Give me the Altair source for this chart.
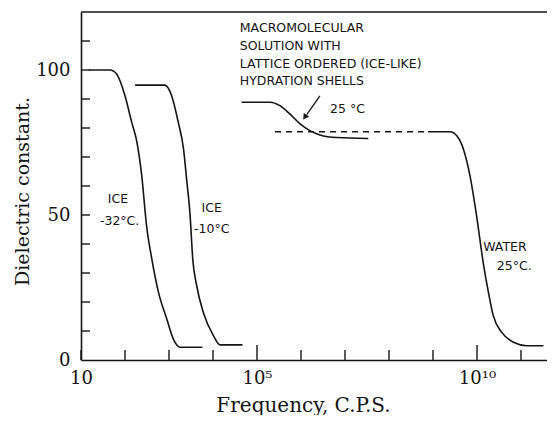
import altair as alt
import pandas as pd

# ---- data (log10 frequency, dielectric constant) ----
ice32_logf = [1.18, 1.66, 1.81, 2.00, 2.15, 2.27, 2.38, 2.49, 2.61, 2.76, 2.95, 3.10, 3.25, 3.76]
ice32_eps = [100.0, 100.0, 98.6, 91.1, 82.1, 75.2, 63.6, 46.3, 34.8, 23.4, 14.1, 7.2, 4.4, 4.4]

ice10_logf = [2.23, 2.91, 3.06, 3.21, 3.33, 3.40, 3.48, 3.54, 3.63, 3.78, 4.01, 4.16, 4.67]
ice10_eps = [94.8, 94.8, 91.1, 82.0, 72.8, 62.4, 49.8, 34.8, 25.6, 16.4, 8.4, 5.2, 5.2]

macro_logf = [4.65, 5.30, 5.52, 5.75, 5.98, 6.20, 6.43, 6.81, 7.53]
macro_eps = [88.9, 88.9, 87.7, 84.8, 81.4, 79.1, 77.6, 76.7, 76.4]

water_logf = [8.89, 9.39, 9.54, 9.69, 9.84, 9.99, 10.14, 10.26, 10.37, 10.56, 10.83, 11.13, 11.51]
water_eps = [78.7, 78.7, 77.3, 72.8, 63.6, 49.8, 33.7, 23.3, 15.3, 9.6, 6.1, 4.9, 4.9]

dash_logf = [5.41, 8.86]
dash_eps = [78.7, 78.7]

arrow_logf = [6.43, 6.13]
arrow_eps = [91.1, 84.6]
arrow_head_logf = [6.10]
arrow_head_eps = [84.0]

x_decades = [1, 2, 3, 4, 6, 7, 8, 9, 11]
x_major = [5, 10]
x_labels = [1, 5, 10]
y_minor = [10, 20, 30, 40, 50, 60, 70, 80, 90, 100, 110]
y_labels = [0, 50, 100]

ann_text = ["MACROMOLECULAR", "SOLUTION  WITH", "LATTICE ORDERED  (ICE-LIKE)", "HYDRATION  SHELLS",
            "25 °C", "ICE", "-32°C.", "ICE", "-10°C", "WATER", "25°C."]
ann_logf = [4.61, 4.61, 4.61, 4.61, 6.66, 1.61, 1.43, 3.74, 3.57, 10.14, 10.45]
ann_eps = [114.4, 108.4, 102.1, 96.3, 86.6, 55.5, 48.0, 52.4, 45.2, 39.0, 32.5]

W, H = 466, 348
PX_PER_DECADE = 44.0
XMIN, XMAX = 10.0, 10 ** (1 + W / PX_PER_DECADE)

def frame(logf, eps, name=None):
    d = pd.DataFrame({"f": [10 ** v for v in logf], "eps": eps})
    if name is not None:
        d["series"] = name
    return d

curves = pd.concat([
    frame(ice32_logf, ice32_eps, "ice -32"),
    frame(ice10_logf, ice10_eps, "ice -10"),
    frame(macro_logf, macro_eps, "macro"),
    frame(water_logf, water_eps, "water"),
])

ink = "#151515"

label_expr = ("round(log(datum.value)/LN10) == 1 ? '10' : "
              "round(log(datum.value)/LN10) == 5 ? '10⁵' : "
              "round(log(datum.value)/LN10) == 10 ? '10¹⁰' : ''")

xscale = alt.Scale(type="log", domain=[XMIN, XMAX], nice=False)
yscale = alt.Scale(domain=[0, 120], nice=False)

x_axis = alt.Axis(
    values=[10 ** v for v in x_labels], labelExpr=label_expr, ticks=False, tickSize=0,
    grid=False, domainColor=ink, domainWidth=1.6, labelFont="DejaVu Serif",
    labelFontSize=18, labelColor=ink, labelPadding=9, labelFlush=False,
    title="Frequency, C.P.S.", titleFont="DejaVu Serif", titleFontSize=20,
    titleFontWeight="normal", titleColor=ink, titleX=222, titleY=45,
    titleBaseline="middle", titleAlign="center", titleAnchor="start",
)
y_axis = alt.Axis(
    values=y_labels, ticks=False, tickSize=0, grid=False, domainColor=ink,
    domainWidth=1.6, labelFont="DejaVu Serif", labelFontSize=18, labelColor=ink,
    labelPadding=11, labelFlush=False, title="Dielectric constant.",
    titleFont="DejaVu Serif", titleFontSize=19, titleFontWeight="normal",
    titleColor=ink, titleX=-59, titleY=179, titleBaseline="middle",
    titleAlign="center", titleAnchor="start", titleAngle=-90,
)

X = alt.X("f:Q", scale=xscale, axis=x_axis)
Y = alt.Y("eps:Q", scale=yscale, axis=y_axis)

lines = alt.Chart(curves).mark_line(
    color=ink, strokeWidth=1.6, interpolate="monotone"
).encode(x=X, y=Y, detail="series:N")

dash = alt.Chart(frame(dash_logf, dash_eps)).mark_line(
    color=ink, strokeWidth=1.4, strokeDash=[6, 5]
).encode(x=X, y=Y)

arrow = alt.Chart(frame(arrow_logf, arrow_eps)).mark_line(
    color=ink, strokeWidth=1.3
).encode(x=X, y=Y)

arrow_head = alt.Chart(frame(arrow_head_logf, arrow_head_eps)).mark_point(
    shape="triangle", filled=True, size=45, angle=215, color=ink, opacity=1
).encode(x=X, y=Y)

ann = pd.DataFrame({"f": [10 ** v for v in ann_logf], "eps": ann_eps, "t": ann_text})
texts = alt.Chart(ann).mark_text(
    align="left", baseline="middle", font="DejaVu Sans", fontSize=12.5, color=ink
).encode(x=X, y=Y, text="t:N")

xt_minor = alt.Chart(pd.DataFrame({"f": [10 ** v for v in x_decades]})).mark_rule(
    color=ink, strokeWidth=1.4
).encode(x=X, y=alt.value(H), y2=alt.value(H - 10))

xt_major = alt.Chart(pd.DataFrame({"f": [10 ** v for v in x_major]})).mark_rule(
    color=ink, strokeWidth=1.4
).encode(x=X, y=alt.value(H), y2=alt.value(H - 15))

yt = alt.Chart(pd.DataFrame({"eps": y_minor})).mark_rule(
    color=ink, strokeWidth=1.4
).encode(y=Y, x=alt.value(0), x2=alt.value(9))

top = alt.Chart(pd.DataFrame({"eps": [120]})).mark_rule(
    color=ink, strokeWidth=1.6
).encode(y=Y, x=alt.value(0), x2=alt.value(W))

chart = alt.layer(
    top, xt_minor, xt_major, yt, dash, lines, arrow, arrow_head, texts
).properties(
    width=W, height=H,
    autosize=alt.AutoSizeParams(type="none"),
    padding={"left": 73, "top": 4, "right": 0, "bottom": 55},
    background="white",
).configure_view(stroke=None)

chart.save("out.html", embed_options={"renderer": "svg", "actions": False})
